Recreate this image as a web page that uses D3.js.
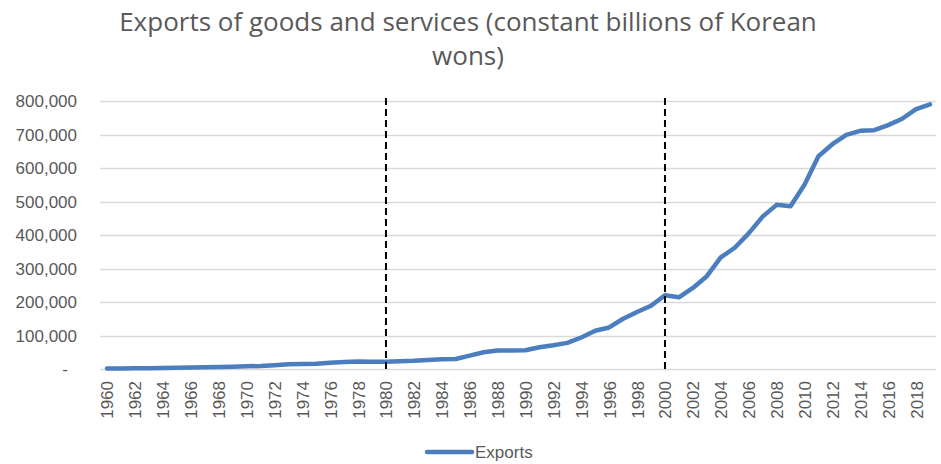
<!DOCTYPE html>
<html>
<head>
<meta charset="utf-8">
<script src="https://cdn.jsdelivr.net/npm/d3@7"></script>
<style>
  html, body { margin: 0; padding: 0; background: #fff; }
  svg { display: block; }
</style>
</head>
<body>
<svg id="chart" width="941" height="464"></svg>
<script>
// Korea: exports of goods and services, constant billions of won
const years = d3.range(1960, 2020);
const exportsValues = [
  1500, 1800, 2100, 2400, 2800, 3500, 4300, 5000, 6000, 7000,
  8000, 9000, 11500, 14000, 14800, 15800, 18500, 21000, 22500, 21500,
  22000, 23000, 24500, 27000, 29000, 30000, 40000, 50000, 55000, 55000,
  56000, 65000, 71000, 78000, 94000, 114000, 124000, 150000, 170000, 189000,
  220000, 214000, 242000, 277000, 333000, 362000, 405000, 455000, 490000, 486000,
  550000, 635000, 671000, 699000, 711000, 713000, 728000, 747000, 776000, 790000
];
const yTicks = [0, 100000, 200000, 300000, 400000, 500000, 600000, 700000, 800000];
const markerYears = [1980, 2000];
const titleLines = ["Exports of goods and services (constant billions of Korean", "wons)"];
const seriesName = "Exports";

const svg = d3.select("#chart");
const textColor = "#595959";
const gridColor = "#d9d9d9";
const lineColor = "#4a7ebf";
const tickFont = "'Liberation Sans', Arial, sans-serif";

const plotLeft = 100, plotRight = 937, plotTop = 101, plotBottom = 369;

const x = d3.scalePoint().domain(years).range([plotLeft, plotRight]).padding(0.5);
const y = d3.scaleLinear().domain([0, 800000]).range([plotBottom, plotTop]);

// title
const title = svg.append("text")
  .attr("text-anchor", "middle")
  .attr("fill", textColor)
  .style("font-family", "'Open Sans', sans-serif")
  .style("font-size", "26px");
title.selectAll("tspan").data(titleLines).join("tspan")
  .attr("x", 468)
  .attr("y", (d, i) => 31 + i * 34)
  .text(d => d);

// horizontal gridlines
svg.append("g").selectAll("line").data(yTicks.slice(1)).join("line")
  .attr("x1", plotLeft).attr("x2", plotRight - 1)
  .attr("y1", d => Math.round(y(d)) + 0.5).attr("y2", d => Math.round(y(d)) + 0.5)
  .attr("stroke", gridColor).attr("stroke-width", 1.3);

// y axis labels
const yAxis = d3.axisLeft(y).tickValues(yTicks).tickSize(0).tickPadding(0)
  .tickFormat(d => d === 0 ? "-" : d3.format(",")(d));
const gy = svg.append("g").attr("transform", "translate(77,0)").call(yAxis);
gy.select(".domain").remove();
gy.selectAll("text")
  .attr("fill", textColor)
  .style("font-family", tickFont)
  .style("font-size", "17px")
  .attr("dy", "0.35em")
  .attr("dx", d => d === 0 ? -9 : 0);

// x axis
const tickYears = years.filter(yr => yr % 2 === 0);
const xAxis = d3.axisBottom(x).tickValues(tickYears).tickSize(0).tickPadding(0);
const gx = svg.append("g").attr("transform", `translate(0,${plotBottom})`).call(xAxis);
gx.select(".domain").remove();
gx.selectAll("text")
  .attr("fill", textColor)
  .style("font-family", tickFont)
  .style("font-size", "17px")
  .attr("text-anchor", "end")
  .attr("transform", "rotate(-90)")
  .attr("x", -12)
  .attr("y", 0)
  .attr("dy", "0.35em");

svg.append("line")
  .attr("x1", plotLeft).attr("x2", plotRight - 1)
  .attr("y1", plotBottom + 0.5).attr("y2", plotBottom + 0.5)
  .attr("stroke", gridColor).attr("stroke-width", 1.5);

// series line
const line = d3.line()
  .x((d, i) => x(years[i]))
  .y(d => y(d));
svg.append("path")
  .datum(exportsValues)
  .attr("d", line)
  .attr("fill", "none")
  .attr("stroke", lineColor)
  .attr("stroke-width", 4.5)
  .attr("stroke-linejoin", "round")
  .attr("stroke-linecap", "round");

// dashed markers
svg.append("g").selectAll("line").data(markerYears).join("line")
  .attr("x1", d => x(d)).attr("x2", d => x(d))
  .attr("y1", plotTop - 3).attr("y2", plotBottom)
  .attr("stroke", "#000").attr("stroke-width", 2)
  .attr("stroke-dasharray", "7,4");

// legend
const legend = svg.append("g").attr("transform", "translate(427,452)");
legend.append("line")
  .attr("x1", 0).attr("x2", 45).attr("y1", 0).attr("y2", 0)
  .attr("stroke", lineColor).attr("stroke-width", 4.5)
  .attr("stroke-linecap", "round");
legend.append("text")
  .attr("x", 48).attr("y", 0).attr("dy", "0.35em")
  .attr("fill", textColor)
  .style("font-family", tickFont)
  .style("font-size", "17px")
  .text(seriesName);
</script>
</body>
</html>
